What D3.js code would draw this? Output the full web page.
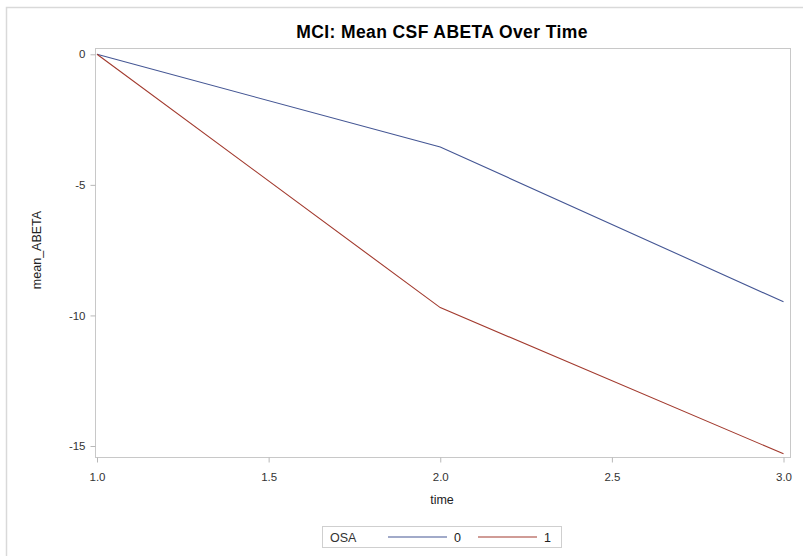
<!DOCTYPE html>
<html><head><meta charset="utf-8">
<script src="https://cdn.jsdelivr.net/npm/d3@7"></script>
<style>body{margin:0;background:#fff;font-family:"Liberation Sans",Arial,sans-serif;}</style>
</head><body><div id="chart"></div>
<script>
const times = [1, 2, 3];
const osa0 = [0, -3.55, -9.48];
const osa1 = [0, -9.7, -15.3];
const groups = ["0", "1"];
const colors = ["#445694", "#A23A2E"];
const xTicks = [1.0, 1.5, 2.0, 2.5, 3.0];
const yTicks = [0, -5, -10, -15];
const title = "MCI: Mean CSF ABETA Over Time";

const W = 803, H = 556;
const svg = d3.select("#chart").append("svg").attr("width", W).attr("height", H);
// outer frame
svg.append("rect").attr("x", 6.5).attr("y", 7.5).attr("width", W + 10).attr("height", H + 10)
  .attr("fill", "none").attr("stroke", "#d9d9d9").attr("stroke-width", 1.5);

const frame = {l: 95.5, r: 790.5, t: 48.5, b: 457.5};
const x = d3.scaleLinear().domain([1, 3]).range([97, 783.5]);
const y = d3.scaleLinear().domain([0, -15]).range([54.3, 446]);

svg.append("rect").attr("x", frame.l).attr("y", frame.t)
  .attr("width", frame.r - frame.l).attr("height", frame.b - frame.t)
  .attr("fill", "none").attr("stroke", "#c8c8c8").attr("stroke-width", 1);

const yAxis = svg.append("g").attr("transform", `translate(${frame.l},0)`)
  .call(d3.axisLeft(y).tickValues(yTicks).tickSize(5).tickPadding(5).tickFormat(d => String(d)));
const xAxis = svg.append("g").attr("transform", `translate(0,${frame.b})`)
  .call(d3.axisBottom(x).tickValues(xTicks).tickSize(5).tickPadding(10).tickFormat(d => d.toFixed(1)));
[yAxis, xAxis].forEach(a => {
  a.select(".domain").remove();
  a.selectAll("line").attr("stroke", "#b8b8b8");
  a.selectAll("text").attr("fill", "#333").style("font-size", "11.5px")
    .style("font-family", "'Liberation Sans', Arial, sans-serif");
});

const line = d3.line().x((d, i) => x(times[i])).y(d => y(d));
[osa0, osa1].forEach((s, i) => {
  svg.append("path").datum(s).attr("d", line).attr("fill", "none")
    .attr("stroke", colors[i]).attr("stroke-width", 1.1);
});

svg.append("text").attr("x", 442).attr("y", 37.5).attr("text-anchor", "middle")
  .style("font-size", "17.5px").style("letter-spacing", "0.4px").style("font-weight", "bold")
  .attr("fill", "#000").text(title);

svg.append("text").attr("transform", "translate(41,250) rotate(-90)").attr("text-anchor", "middle")
  .style("font-size", "12.5px").attr("fill", "#222").text("mean_ABETA");
svg.append("text").attr("x", 442).attr("y", 504).attr("text-anchor", "middle")
  .style("font-size", "12.5px").attr("fill", "#222").text("time");

// legend
const lg = svg.append("g");
lg.append("rect").attr("x", 322.5).attr("y", 526.5).attr("width", 239).attr("height", 21)
  .attr("fill", "none").attr("stroke", "#cfcfcf");
lg.append("text").attr("x", 330).attr("y", 541.5).style("font-size", "12.5px").attr("fill", "#333").text("OSA");
const lx = [388, 478];
groups.forEach((g, i) => {
  lg.append("line").attr("x1", lx[i]).attr("x2", lx[i] + 59).attr("y1", 537).attr("y2", 537)
    .attr("stroke", colors[i]).attr("stroke-width", 1.2);
  lg.append("text").attr("x", lx[i] + 66).attr("y", 541.5).style("font-size", "12.5px").attr("fill", "#222").text(g);
});
</script></body></html>
